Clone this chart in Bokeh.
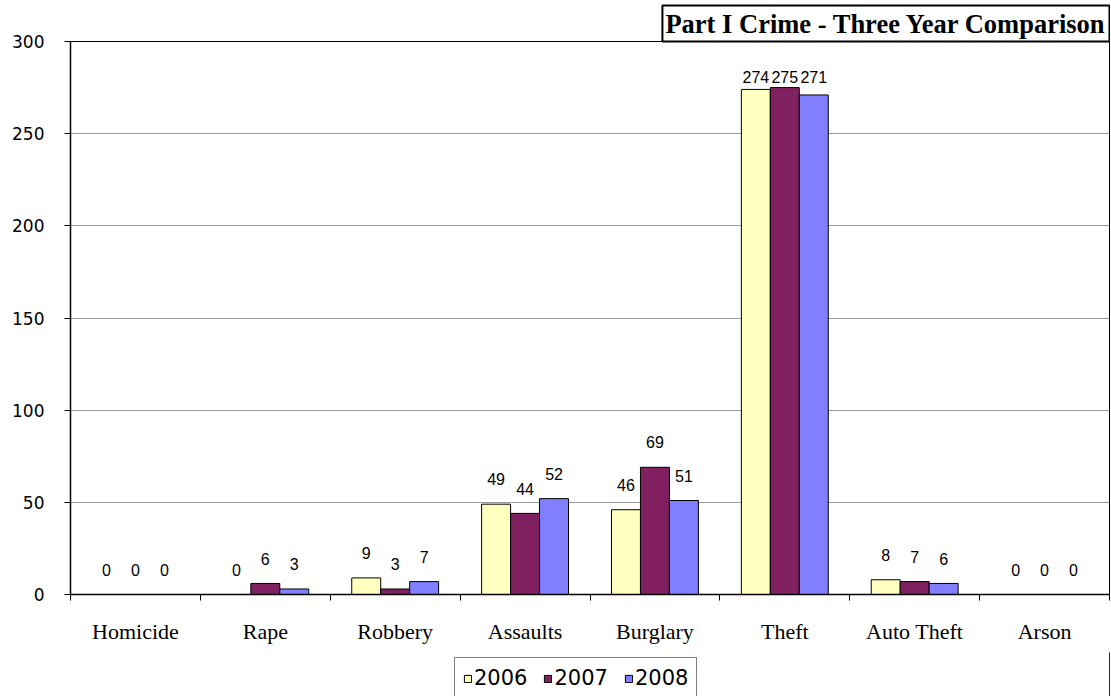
import numpy as np
from bokeh.plotting import figure
from bokeh.layouts import column
from bokeh.models import (ColumnDataSource, FixedTicker, Title, Legend, LegendItem, Range1d)
from bokeh.core.properties import value
from bokeh.embed import file_html
from bokeh.resources import INLINE

categories = ["Homicide", "Rape", "Robbery", "Assaults", "Burglary", "Theft", "Auto Theft", "Arson"]
years = ["2006", "2007", "2008"]
v2006 = [0, 0, 9, 49, 46, 274, 8, 0]
v2007 = [0, 6, 3, 44, 69, 275, 7, 0]
v2008 = [0, 3, 7, 52, 51, 271, 6, 0]
colors = ["#FFFFC0", "#802060", "#8080FF"]
y_ticks = [0, 50, 100, 150, 200, 250, 300]
title_text = "Part I Crime - Three Year Comparison"

series = [v2006, v2007, v2008]
n = len(categories)
xc = np.arange(1, n + 1, dtype=float)
bw = 0.223
offsets = [-bw, 0.0, bw]

W = 1110
p = figure(width=W, height=652, output_backend="svg", toolbar_location=None,
           x_range=Range1d(0.5, n + 0.5), y_range=Range1d(0, 300),
           min_border_left=70, min_border_right=1, min_border_top=41, min_border_bottom=58)
p.background_fill_color = "white"
p.border_fill_color = "white"
p.outline_line_color = "black"
p.outline_line_width = 1

for vals, off, col in zip(series, offsets, colors):
    src = ColumnDataSource(dict(x=xc + off, top=vals,
                                ly=np.minimum(np.array(vals, dtype=float) + 13.5, 281.0),
                                lab=[str(v) for v in vals]))
    p.vbar(x="x", top="top", width=bw, bottom=0, source=src,
           fill_color=col, line_color="black", line_width=1)
    p.text(x="x", y="ly", text="lab", source=src, text_align="center", text_baseline="middle",
           text_font=value("Liberation Sans"), text_font_size="16px", text_color="black")

# axes
p.xgrid.visible = False
p.ygrid.grid_line_color = "#999999"
p.ygrid.grid_line_width = 1
p.yaxis.ticker = FixedTicker(ticks=y_ticks)
p.yaxis.minor_tick_line_color = None
p.yaxis.major_tick_out = 6
p.yaxis.major_tick_in = 0
p.yaxis.axis_line_color = "black"
p.yaxis.axis_line_width = 1.5
p.yaxis.major_label_text_font = "DejaVu Sans"
p.yaxis.major_label_text_font_size = "17px"
p.yaxis.major_label_text_color = "black"
p.yaxis.major_label_standoff = 20

p.xaxis.ticker = FixedTicker(ticks=list(xc), minor_ticks=list(np.arange(0.5, n + 1, 1.0)))
p.xaxis.major_label_overrides = {float(x): c for x, c in zip(xc, categories)}
p.xaxis.major_tick_line_color = None
p.xaxis.minor_tick_out = 6
p.xaxis.minor_tick_in = 0
p.xaxis.minor_tick_line_color = "black"
p.xaxis.axis_line_color = "black"
p.xaxis.axis_line_width = 1.5
p.xaxis.major_label_text_font = "Liberation Serif"
p.xaxis.major_label_text_font_size = "22px"
p.xaxis.major_label_text_color = "black"
p.xaxis.major_label_standoff = 18

# title box (top right)
t = Title(text=title_text, align="right", text_font="Liberation Serif", text_font_style="bold",
          text_font_size="26.5px", text_color="black", background_fill_color="white",
          border_line_color="black", border_line_width=2, padding=3, standoff=0)
p.add_layout(t, "above")

# legend strip below the chart (its frame is aligned with the chart's frame)
lg = figure(width=W, height=44, output_backend="svg", toolbar_location=None,
            x_range=Range1d(0, 1), y_range=Range1d(0, 1),
            x_axis_location=None, y_axis_location=None,
            min_border=0, min_border_left=0, min_border_right=0, min_border_top=0, min_border_bottom=0)
lg.grid.visible = False
lg.outline_line_color = None
lg.background_fill_color = "white"
lg.border_fill_color = "white"
leg_r = []
for col in colors:
    # legend-only swatch renderer, placed outside the visible range
    leg_r.append(lg.vbar(x=[5.0], top=[1.0], width=0.1, fill_color=col, line_color="black", line_width=1))
legend = Legend(items=[LegendItem(label=y, renderers=[r]) for y, r in zip(years, leg_r)],
                orientation="horizontal", location=(384, -3),
                glyph_width=9, glyph_height=9, label_standoff=2, spacing=16,
                padding=8, margin=0, border_line_color="black", border_line_width=1,
                label_text_font="DejaVu Sans", label_text_font_size="21px", label_text_color="black",
                background_fill_alpha=1.0)
lg.add_layout(legend)

layout = column(p, lg, spacing=0)
open("out.html", "w").write(file_html(layout, INLINE))
